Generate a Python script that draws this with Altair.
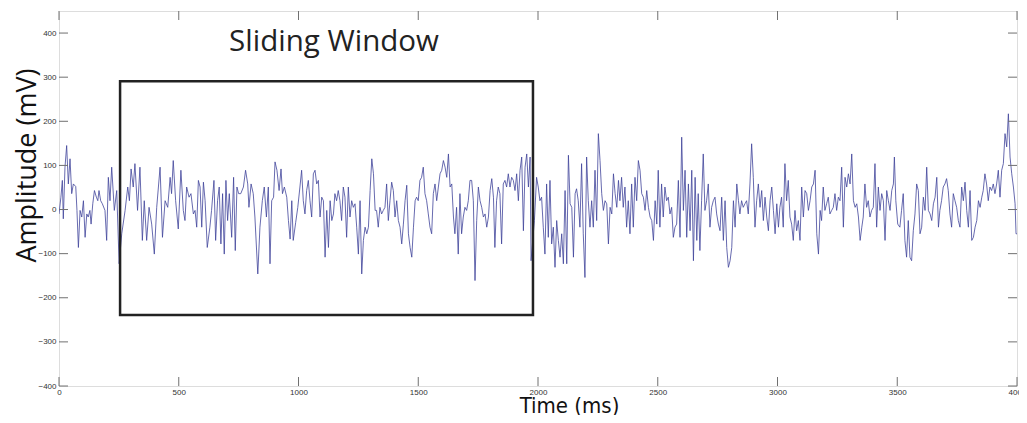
import altair as alt
import pandas as pd

# ---- data ----
time_ms = [0, 8, 14, 18, 25, 32, 39, 46, 53, 60, 70, 75, 81, 88, 95, 102, 109, 116, 122, 129, 134, 141, 148, 156, 162, 167, 174, 181, 192, 199,
           206, 213, 220, 231, 241, 251, 262, 276, 287, 294, 301, 310, 317, 328, 338, 348, 356, 366, 376, 387, 398, 408, 422, 432, 443, 454, 464, 470, 477, 487,
           498, 509, 519, 526, 533, 543, 551, 561, 568, 575, 582, 589, 596, 603, 610, 619, 630, 637, 647, 654, 662, 669, 676, 683, 690, 697, 704, 711, 721, 729,
           736, 743, 750, 759, 770, 779, 788, 793, 802, 811, 818, 830, 839, 849, 857, 866, 874, 881, 888, 896, 902, 910, 919, 927, 933, 941, 951, 958, 965, 972,
           978, 988, 997, 1006, 1013, 1020, 1027, 1034, 1041, 1048, 1055, 1062, 1069, 1076, 1083, 1090, 1097, 1104, 1111, 1118, 1125, 1132, 1139, 1146, 1152, 1159, 1166, 1173, 1180, 1187,
           1194, 1201, 1208, 1215, 1222, 1229, 1236, 1243, 1250, 1257, 1264, 1271, 1278, 1285, 1292, 1299, 1306, 1313, 1320, 1326, 1333, 1340, 1347, 1354, 1361, 1368, 1375, 1382, 1389, 1396,
           1403, 1410, 1417, 1424, 1431, 1438, 1445, 1452, 1459, 1466, 1473, 1480, 1487, 1493, 1500, 1507, 1514, 1521, 1528, 1535, 1542, 1549, 1556, 1563, 1570, 1577, 1584, 1591, 1598, 1605,
           1612, 1619, 1626, 1633, 1640, 1647, 1653, 1660, 1667, 1674, 1681, 1688, 1695, 1702, 1709, 1716, 1723, 1730, 1737, 1744, 1751, 1758, 1765, 1772, 1779, 1786, 1793, 1800, 1807, 1814,
           1820, 1827, 1834, 1841, 1848, 1855, 1862, 1869, 1876, 1883, 1890, 1897, 1904, 1911, 1918, 1925, 1932, 1939, 1946, 1953, 1960, 1967, 1971, 1978, 1985, 1994, 2001, 2008, 2015, 2022,
           2029, 2036, 2043, 2050, 2057, 2064, 2071, 2078, 2085, 2092, 2099, 2106, 2113, 2120, 2127, 2134, 2141, 2148, 2155, 2161, 2168, 2175, 2182, 2189, 2196, 2203, 2210, 2217, 2224, 2231,
           2238, 2245, 2252, 2259, 2266, 2273, 2280, 2287, 2294, 2301, 2308, 2315, 2322, 2329, 2336, 2342, 2349, 2356, 2363, 2370, 2377, 2384, 2391, 2398, 2405, 2412, 2419, 2426, 2433, 2440,
           2447, 2454, 2461, 2468, 2475, 2482, 2489, 2496, 2502, 2509, 2516, 2523, 2530, 2537, 2544, 2551, 2558, 2565, 2572, 2579, 2586, 2593, 2600, 2607, 2614, 2621, 2628, 2635, 2642, 2649,
           2656, 2663, 2669, 2676, 2683, 2690, 2697, 2704, 2711, 2718, 2725, 2732, 2739, 2746, 2753, 2760, 2767, 2774, 2781, 2788, 2795, 2802, 2809, 2816, 2823, 2830, 2837, 2843, 2850, 2857,
           2864, 2871, 2878, 2885, 2892, 2899, 2906, 2913, 2920, 2927, 2934, 2941, 2948, 2955, 2962, 2969, 2976, 2983, 2990, 2997, 3004, 3010, 3017, 3024, 3031, 3038, 3045, 3052, 3059, 3066,
           3073, 3080, 3087, 3094, 3101, 3108, 3115, 3122, 3129, 3136, 3143, 3150, 3157, 3164, 3171, 3178, 3184, 3191, 3198, 3205, 3212, 3219, 3226, 3233, 3240, 3247, 3254, 3261, 3268, 3275,
           3282, 3289, 3296, 3303, 3310, 3317, 3324, 3331, 3338, 3345, 3352, 3358, 3365, 3372, 3379, 3386, 3393, 3400, 3407, 3414, 3421, 3428, 3435, 3442, 3449, 3456, 3463, 3470, 3477, 3484,
           3488, 3494, 3502, 3511, 3518, 3525, 3532, 3539, 3546, 3553, 3560, 3567, 3574, 3581, 3588, 3595, 3602, 3609, 3616, 3623, 3630, 3637, 3644, 3651, 3658, 3665, 3672, 3678, 3685, 3692,
           3699, 3706, 3713, 3720, 3727, 3734, 3741, 3748, 3755, 3762, 3769, 3776, 3783, 3790, 3797, 3804, 3811, 3818, 3825, 3832, 3839, 3846, 3853, 3859, 3866, 3873, 3880, 3887, 3894, 3901,
           3908, 3915, 3922, 3929, 3936, 3943, 3950, 3957, 3964, 3971, 3978, 3985, 3992, 3996, 4000]

amplitude_mv = [-10, 28, 66, -21, 96, 145, 58, 115, 36, 58, 52, -2, -86, -2, -17, 20, -63, -10, -17, -2, -33, 13, 43, 28, 20, 43, 20, 13, -2, -70,
                73, 20, 96, -2, 43, -123, -55, -2, 51, 20, 92, 51, 104, -2, 96, -70, 20, -70, 5, -33, -101, 5, 96, -63, 20, 5, 73, 36, 111, 20,
                -44, 89, -2, -25, 51, 28, 36, -10, -2, -40, 66, 51, -40, 62, 20, -86, -40, -2, 66, -70, 20, 51, -78, 36, -101, 66, -25, 36, -63, 73,
                -93, 51, 36, 36, 51, 89, 58, 5, 58, 36, -17, -146, -40, 20, 51, -17, 51, -123, 20, 28, 108, 89, 43, 92, 36, 51, 28, -25, -67, 20,
                -70, -30, 5, 51, 89, 20, -10, 43, 66, 20, -17, 81, 89, 58, 66, -17, 28, 20, -108, -2, -86, 20, -25, -10, 36, 20, 43, 20, -25, 51,
                28, -63, 51, -17, 20, 5, 13, -40, -101, 20, -146, -70, -40, -55, -40, 43, 115, 81, -2, -2, -40, 5, -10, -2, 5, 58, -25, 20, 62, 43,
                -17, 20, -25, -40, -78, -33, 20, 55, -55, -86, -108, -40, 20, 28, 20, 66, 73, 96, 36, 20, -10, -40, -55, 36, 58, 20, 51, 81, 89, 111,
                96, 73, 126, 51, 58, -17, -55, 5, -101, 36, -55, -17, 5, -2, 20, 66, 66, 20, -161, -25, 51, 20, 5, -17, -10, -40, -17, 43, 70, 28,
                -86, 20, 51, 36, -78, 58, 66, 51, 81, 51, 73, 66, 43, 81, 20, 89, 119, -48, 96, 126, 51, 119, -116, -70, -25, 73, 51, 20, 28, -40,
                -101, 58, -63, 66, -78, -40, -131, -25, -70, -108, -55, -123, 43, -123, 123, 13, 5, -108, 36, 47, 20, -40, 104, -55, -154, 119, 20, -40, 20, -40,
                89, -25, 172, 111, 36, -2, 20, 13, -78, 5, -10, 81, 36, 5, 66, 20, 73, 5, 51, -40, 20, -55, 58, -40, 73, 20, 111, 89, 36, 28,
                -2, 43, 5, -17, -25, -70, 20, -33, 89, -40, 58, -17, 51, 20, 28, -10, 5, -63, -40, -33, 66, -63, 164, -2, 89, -63, 58, -48, 89, -116,
                73, -70, 36, -93, 20, 126, -2, 20, 58, -40, 5, 20, 28, -10, -33, -48, 28, -70, 20, -86, -131, -116, -86, 20, -40, 58, 20, -10, 20, 5,
                13, 20, -10, 58, 149, 73, -40, 20, 58, 5, 43, -25, 28, -17, -48, 20, 51, -2, -55, 13, -40, 5, 28, -40, 104, 20, 66, -17, -33, -70,
                -2, -48, -25, -70, 51, -17, 43, 36, -2, 20, 51, 58, 89, -55, -101, -2, -25, 51, -2, 13, 28, -10, -2, 5, 36, -2, 28, 20, 96, -40,
                73, 51, 81, 58, 126, 20, 5, 13, -17, -70, -40, -17, 58, 5, 20, -17, -2, 5, 104, -40, 51, -2, 36, 20, -70, 43, 20, -2, 43, 58,
                119, 20, -33, -40, -2, 36, -70, -108, -25, -108, -116, -48, -10, 58, 43, -55, -40, 28, -2, 96, -2, -10, -25, 13, 28, 73, -40, -2, 20, 51,
                58, 70, 43, -10, -40, 36, 20, 5, -25, -40, 51, 20, 62, -2, -40, 43, -70, -63, -40, -25, 20, 5, 28, 43, 81, 58, 20, 51, 43, 58,
                36, 58, 89, 28, 89, 104, 172, 142, 217, 119, 81, 51, 13, -55, -55]

x_ticks = [0, 500, 1000, 1500, 2000, 2500, 3000, 3500, 4000]
y_ticks = [-400, -300, -200, -100, 0, 100, 200, 300, 400]

window_start, window_end = 255, 1979
window_top, window_bottom = 291, -239
window_label = "Sliding Window"

# ---- chart ----
W, H = 958, 375
frame_col = "#707070"
tick_len = 9

df = pd.DataFrame({"t": time_ms, "v": amplitude_mv})
xs = alt.Scale(domain=[0, 4000], nice=False, zero=False)
ys = alt.Scale(domain=[-400, 450], nice=False, zero=False)

line = alt.Chart(df).mark_line(color="#40449a", strokeWidth=0.8, clip=True).encode(
    x=alt.X("t:Q", scale=xs, axis=alt.Axis(
        values=x_ticks, format="d", ticks=False, domain=False, grid=False,
        labelFont="Liberation Sans", labelFontSize=8, labelColor="#333", labelPadding=2,
        labelFlush=False,
        title="Time (ms)", titleFont="DejaVu Sans Condensed, Liberation Sans, sans-serif",
        titleFontSize=22, titleFontWeight="normal", titleColor="#111",
        titleX=510, titleY=26, titleAlign="center", titleBaseline="alphabetic")),
    y=alt.Y("v:Q", scale=ys, axis=alt.Axis(
        values=y_ticks, format="d", ticks=False, domain=False, grid=False,
        labelFont="Liberation Sans", labelFontSize=8, labelColor="#333", labelPadding=3,
        labelFlush=False,
        title="Amplitude (mV)", titleFont="Open Sans", titleFontSize=27,
        titleFontWeight="normal", titleColor="#111", titleX=-24, titleY=154,
        titleAlign="center", titleBaseline="alphabetic")),
)

xt = pd.DataFrame({"t": x_ticks})
yt = pd.DataFrame({"v": y_ticks})

ticks_bottom = alt.Chart(xt).mark_rule(color=frame_col, strokeWidth=1).encode(
    x=alt.X("t:Q", scale=xs), y=alt.value(H - tick_len), y2=alt.value(H))
ticks_top = alt.Chart(xt).mark_rule(color=frame_col, strokeWidth=1).encode(
    x=alt.X("t:Q", scale=xs), y=alt.value(0), y2=alt.value(tick_len))
ticks_left = alt.Chart(yt).mark_rule(color=frame_col, strokeWidth=1).encode(
    y=alt.Y("v:Q", scale=ys), x=alt.value(0), x2=alt.value(tick_len))
ticks_right = alt.Chart(yt).mark_rule(color=frame_col, strokeWidth=1).encode(
    y=alt.Y("v:Q", scale=ys), x=alt.value(W - tick_len), x2=alt.value(W))

win = pd.DataFrame({"x0": [window_start], "x1": [window_end], "y0": [window_bottom], "y1": [window_top]})
rect = alt.Chart(win).mark_rect(fill="transparent", stroke="#222222", strokeWidth=2.5).encode(
    x=alt.X("x0:Q", scale=xs), x2="x1:Q", y=alt.Y("y0:Q", scale=ys), y2="y1:Q")

lab = pd.DataFrame({"label": [window_label]})
label = alt.Chart(lab).mark_text(font="Open Sans", fontSize=29.5, color="#222", align="center",
                                 baseline="alphabetic").encode(
    text="label:N", x=alt.value(275), y=alt.value(40))

chart = alt.layer(line, ticks_bottom, ticks_top, ticks_left, ticks_right, rect, label).properties(
    width=W, height=H,
    autosize=alt.AutoSizeParams(type="none"),
    padding={"left": 51, "top": 3, "right": 2, "bottom": 29},
).configure_view(stroke=frame_col, strokeWidth=1.2).configure(background="white")

chart.save("out.html", embed_options={"renderer": "svg", "actions": False})
